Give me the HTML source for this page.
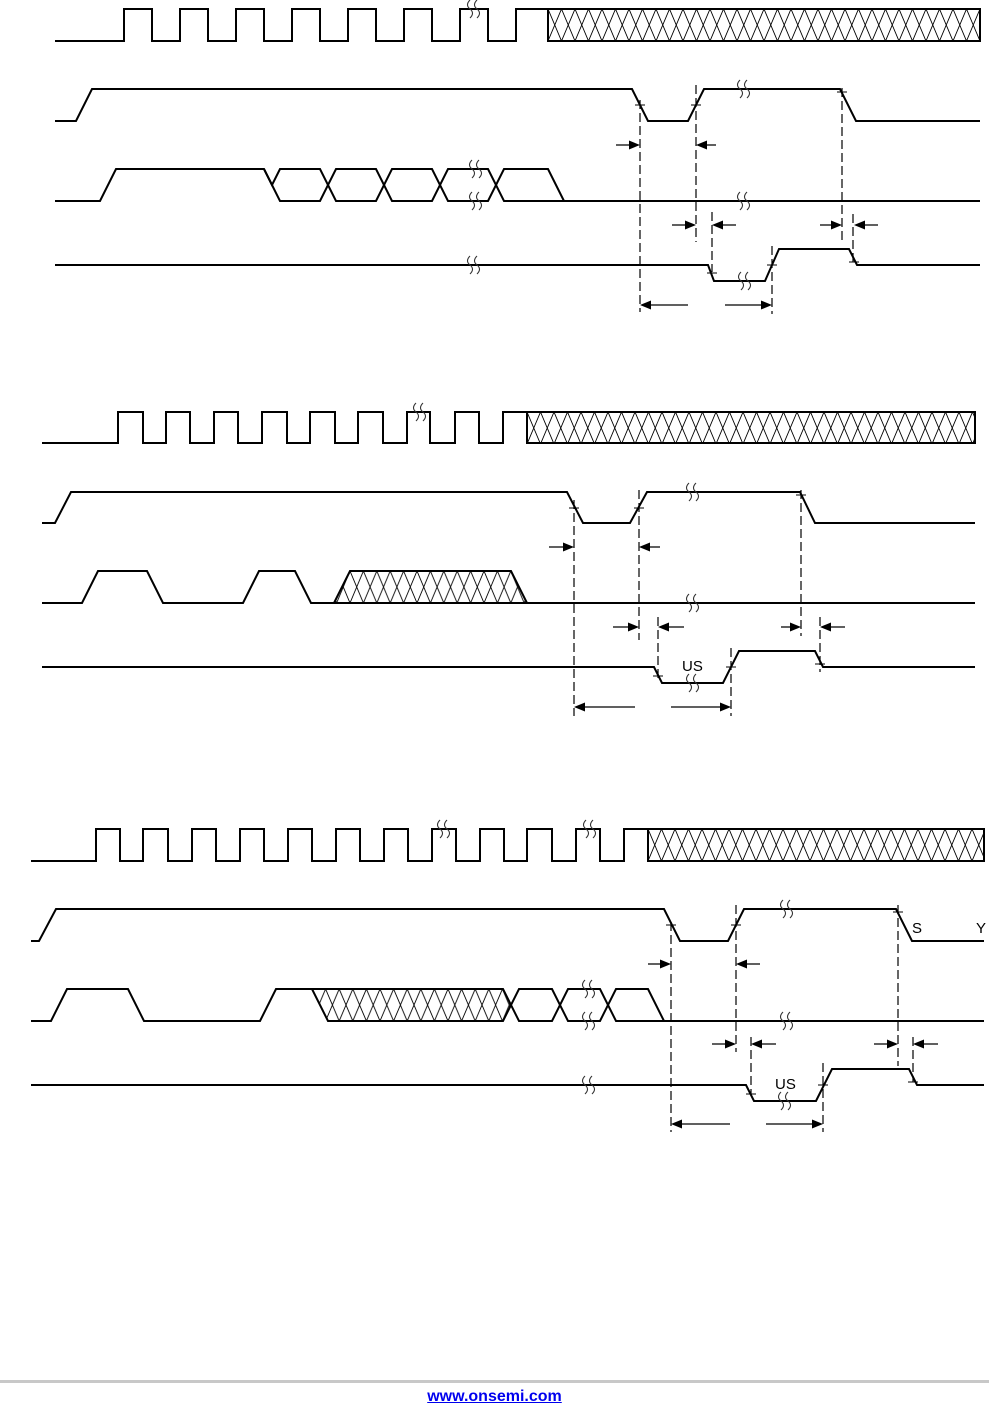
<!DOCTYPE html>
<html><head><meta charset="utf-8"><style>
html,body{margin:0;padding:0;background:#fff;width:989px;height:1406px;overflow:hidden}
svg{position:absolute;left:0;top:0}
.f{position:absolute;left:0;top:1380px;width:989px;height:3px;background:#c8c8c8}
a{position:absolute;top:1388px;left:0;width:989px;text-align:center;font:bold 16px "Liberation Sans",sans-serif;color:#0000ee;text-decoration:underline}
</style></head><body>
<svg width="989" height="1406" viewBox="0 0 989 1406" xmlns="http://www.w3.org/2000/svg">
<defs>
<pattern id="p1" patternUnits="userSpaceOnUse" x="548" y="9" width="13.5" height="32"><path d="M0,0L13.5,32M0,32L13.5,0" stroke="#000" stroke-width="0.9"/></pattern>
<pattern id="p2" patternUnits="userSpaceOnUse" x="527" y="412" width="13.5" height="32"><path d="M0,0L13.5,32M0,32L13.5,0" stroke="#000" stroke-width="0.9"/></pattern>
<pattern id="p3" patternUnits="userSpaceOnUse" x="648" y="829" width="13.5" height="32"><path d="M0,0L13.5,32M0,32L13.5,0" stroke="#000" stroke-width="0.9"/></pattern>
<pattern id="p4" patternUnits="userSpaceOnUse" x="350" y="571" width="13.4" height="32"><path d="M0,0L13.4,32M0,32L13.4,0" stroke="#000" stroke-width="0.9"/></pattern>
<pattern id="p5" patternUnits="userSpaceOnUse" x="312" y="989" width="13.6" height="32"><path d="M0,0L13.6,32M0,32L13.6,0" stroke="#000" stroke-width="0.9"/></pattern>
<g id="b" fill="none" stroke="#333" stroke-width="1.1"><path d="M-3,-9q-5,5 0,9q5,4 0,9"/><path d="M4,-9q-5,5 0,9q5,4 0,9"/></g>
<path id="ar" d="M0,0L-11,-4.5L-11,4.5Z" fill="#000"/>
<path id="al" d="M0,0L11,-4.5L11,4.5Z" fill="#000"/>
</defs>
<g fill="none" stroke="#000" stroke-width="2" stroke-linejoin="miter">
<path d="M55,41H124V9H152V41H180V9H208V41H236V9H264V41H292V9H320V41H348V9H376V41H404V9H432V41H460V9H488V41H516V9H548"/>
<rect x="548" y="9" width="432" height="32" fill="url(#p1)"/>
<path d="M55,121H76L92,89H632L648,121H688L704,89H840L856,121H980"/>
<path d="M55,201H100L116,169H264L280,201H320L336,169H376L392,201H432L448,169H488L504,201H980"/>
<path d="M264,169L272,185L280,169H320L336,201H376L392,169H432L448,201H488L504,169H548L564,201"/>
<path d="M55,265H708L714,281H765L779,249H849L857,265H980"/>
<path d="M42,443H118V412H143V443H166V412H190V443H214V412H238V443H262V412H287V443H310V412H335V443H358V412H383V443H407V412H430V443H455V412H479V443H503V412H527"/>
<rect x="527" y="412" width="448" height="31" fill="url(#p2)"/>
<path d="M42,523H55L71,492H567L583,523H630L647,492H800L815,523H975"/>
<path d="M334,603L350,571H511L527,603Z" fill="url(#p4)"/>
<path d="M42,603H82L98,571H147L163,603H243L259,571H295L311,603H975"/>
<path d="M42,667H654L662,683H723L739,651H815L823,667H975"/>
<path d="M31,861H96V829H120V861H143V829H168V861H192V829H216V861H240V829H264V861H288V829H312V861H336V829H360V861H384V829H408V861H432V829H456V861H480V829H504V861H527V829H552V861H576V829H600V861H624V829H648"/>
<rect x="648" y="829" width="336" height="32" fill="url(#p3)"/>
<path d="M31,941H39L56,909H664L680,941H728L744,909H896L912,941H984"/>
<path d="M312,989H503L511,1005L503,1021H328Z" fill="url(#p5)" stroke="none"/>
<path d="M31,1021H51L67,989H128L144,1021H260L276,989H312L328,1021H503L519,989H552L568,1021H600L616,989H648L664,1021H984"/>
<path d="M312,989H503L519,1021H552L568,989H600L616,1021H664"/>
<path d="M31,1085H746L754,1101H816L832,1069H909L917,1085H984"/>
</g>
<g stroke="#000" stroke-width="1.2" stroke-dasharray="9,4" fill="none">
<path d="M640,100V312M696,85V242M712,212V272M842,88V242M853,214V266M772,246V314"/>
<path d="M574,500V716M639,490V640M658,617V678M801,490V636M820,617V672M731,648V716"/>
<path d="M671,922V1132M736,905V1052M751,1037V1094M898,905V1066M913,1037V1082M823,1063V1132"/>
</g>
<g stroke="#000" stroke-width="1">
<path d="M635,105H645M691,105H701M837,92H847M707,273H717M767,265H777M849,262H859"/>
<path d="M569,508H579M634,508H644M796,495H806M653,676H663M726,667H736M815,664H825"/>
<path d="M666,925H676M731,925H741M893,912H903M746,1094H756M818,1085H828M908,1082H918"/>
</g>
<g stroke="#000" stroke-width="1.2">
<path d="M616,145H630M706,145H716M672,225H686M722,225H736M820,225H832M864,225H878M650,305H688M725,305H762"/>
<path d="M549,547H564M649,547H660M613,627H629M668,627H684M781,627H791M830,627H845M584,707H635M671,707H721"/>
<path d="M648,964H661M746,964H760M712,1044H726M761,1044H776M874,1044H888M923,1044H938M681,1124H730M766,1124H813"/>
</g>
<use href="#ar" x="640" y="145"/><use href="#al" x="696" y="145"/>
<use href="#ar" x="696" y="225"/><use href="#al" x="712" y="225"/>
<use href="#ar" x="842" y="225"/><use href="#al" x="854" y="225"/>
<use href="#al" x="640" y="305"/><use href="#ar" x="772" y="305"/>
<use href="#ar" x="574" y="547"/><use href="#al" x="639" y="547"/>
<use href="#ar" x="639" y="627"/><use href="#al" x="658" y="627"/>
<use href="#ar" x="801" y="627"/><use href="#al" x="820" y="627"/>
<use href="#al" x="574" y="707"/><use href="#ar" x="731" y="707"/>
<use href="#ar" x="671" y="964"/><use href="#al" x="736" y="964"/>
<use href="#ar" x="736" y="1044"/><use href="#al" x="751" y="1044"/>
<use href="#ar" x="898" y="1044"/><use href="#al" x="913" y="1044"/>
<use href="#al" x="671" y="1124"/><use href="#ar" x="823" y="1124"/>
<use href="#b" x="473" y="9"/><use href="#b" x="743" y="89"/><use href="#b" x="475" y="169"/><use href="#b" x="475" y="201"/><use href="#b" x="743" y="201"/><use href="#b" x="473" y="265"/><use href="#b" x="744" y="281"/>
<use href="#b" x="419" y="412"/><use href="#b" x="692" y="492"/><use href="#b" x="692" y="603"/><use href="#b" x="692" y="683"/>
<use href="#b" x="443" y="829"/><use href="#b" x="589" y="829"/><use href="#b" x="786" y="909"/><use href="#b" x="588" y="989"/><use href="#b" x="588" y="1021"/><use href="#b" x="786" y="1021"/><use href="#b" x="588" y="1085"/><use href="#b" x="784" y="1101"/>
<g font-family="Liberation Sans, sans-serif" font-size="15" fill="#000">
<text x="682" y="671">US</text>
<text x="775" y="1089">US</text>
<text x="912" y="933">S</text>
<text x="976" y="933">Y</text>
</g>
</svg>
<div class="f"></div>
<a>www.onsemi.com</a>
</body></html>
